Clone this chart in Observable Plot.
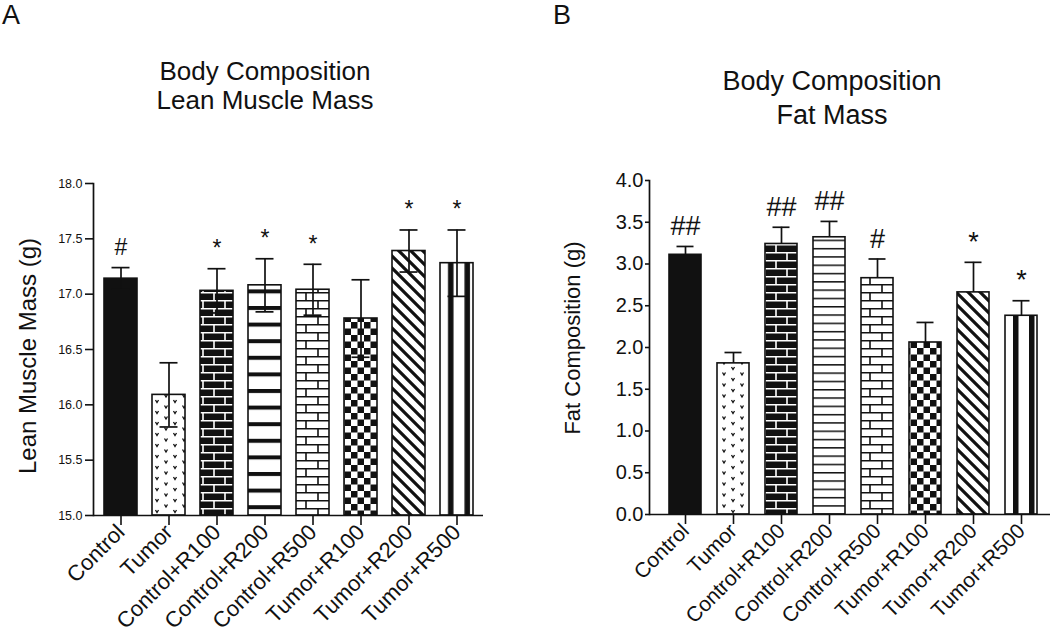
<!DOCTYPE html>
<html>
<head>
<meta charset="utf-8">
<script src="https://cdn.jsdelivr.net/npm/d3@7"></script>
<script src="https://cdn.jsdelivr.net/npm/@observablehq/plot@0.6"></script>
<style>
  body { margin: 0; background: #fff; font-family: "Liberation Sans", Arial, sans-serif; color: #111; }
  #root { position: relative; width: 1050px; height: 632px; overflow: hidden; background: #fff; }
  .abs { position: absolute; }
  .letter { font-size: 27px; line-height: 30px; }
  .title { text-align: center; white-space: nowrap; transform: translateX(-50%); }
  .ylab { white-space: nowrap; transform: translate(-50%, -50%) rotate(-90deg); line-height: 1.2; }
  .panel svg { overflow: visible; max-width: none; }
</style>
</head>
<body>
<svg width="0" height="0" style="position:absolute">
  <defs>
    <pattern id="vee" patternUnits="userSpaceOnUse" width="18" height="11">
      <rect width="18" height="11" fill="#fff"/>
      <path d="M2.5,1.5 L4,4 L5.5,1.5 M11.5,7 L13,9.5 L14.5,7" fill="none" stroke="#111" stroke-width="1.3"/>
    </pattern>
    <pattern id="brickBlack" patternUnits="userSpaceOnUse" width="22" height="16">
      <rect width="22" height="16" fill="#111"/>
      <path d="M0,0.8H22 M0,8.8H22 M5,0V8 M16,8V16" stroke="#fff" stroke-width="1.6"/>
    </pattern>
    <pattern id="brickWhite" patternUnits="userSpaceOnUse" width="24" height="16">
      <rect width="24" height="16" fill="#fff"/>
      <path d="M0,0.8H24 M0,8.8H24 M6,0V8 M18,8V16" stroke="#111" stroke-width="1.6"/>
    </pattern>
    <pattern id="stripesThick" patternUnits="userSpaceOnUse" width="10" height="16.6">
      <rect width="10" height="16.6" fill="#fff"/>
      <rect width="10" height="4" fill="#111"/>
    </pattern>
    <pattern id="stripesThin" patternUnits="userSpaceOnUse" width="10" height="8.3">
      <rect width="10" height="8.3" fill="#fff"/>
      <rect width="10" height="1.5" fill="#111"/>
    </pattern>
    <pattern id="checker" patternUnits="userSpaceOnUse" width="13" height="13">
      <rect width="13" height="13" fill="#fff"/>
      <rect width="6.5" height="6.5" fill="#111"/>
      <rect x="6.5" y="6.5" width="6.5" height="6.5" fill="#111"/>
    </pattern>
    <pattern id="diag" patternUnits="userSpaceOnUse" width="12" height="12">
      <rect width="12" height="12" fill="#fff"/>
      <path d="M0,0L12,12 M-6,6L6,18 M6,-6L18,6" stroke="#111" stroke-width="3.2"/>
    </pattern>
    <pattern id="vert" patternUnits="objectBoundingBox" x="0" y="0" width="0.5" height="1">
      <rect width="100" height="1000" fill="#fff"/>
      <rect x="8" width="5.5" height="1000" fill="#111"/>
    </pattern>
  </defs>
</svg>

<div id="root">
  <div class="abs letter" style="left:2px; top:0px;">A</div>
  <div class="abs letter" style="left:553px; top:0px;">B</div>
  <div class="abs title" style="left:265px; top:57px; font-size:26px; line-height:29px;">Body Composition<br>Lean Muscle Mass</div>
  <div class="abs title" style="left:832px; top:64px; font-size:27px; line-height:34px;">Body Composition<br>Fat Mass</div>
  <div class="abs ylab" style="left:28px; top:356px; font-size:24px;">Lean Muscle Mass (g)</div>
  <div class="abs ylab" style="left:573px; top:338px; font-size:22px;">Fat Composition (g)</div>
  <div id="left" class="abs panel" style="left:0px; top:140px; width:520px; height:492px;"></div>
  <div id="right" class="abs panel" style="left:540px; top:140px; width:520px; height:492px;"></div>
</div>

<script>
// ---- data ----
const groups = ["Control", "Tumor", "Control+R100", "Control+R200", "Control+R500", "Tumor+R100", "Tumor+R200", "Tumor+R500"];

const leanMean = [17.14, 16.09, 17.03, 17.08, 17.04, 16.78, 17.39, 17.28];
const leanSem  = [0.10, 0.29, 0.20, 0.24, 0.23, 0.35, 0.19, 0.30];
const leanSig  = ["#", "", "*", "*", "*", "", "*", "*"];
const leanTicks = [15.0, 15.5, 16.0, 16.5, 17.0, 17.5, 18.0];

const fatMean = [3.11, 1.81, 3.24, 3.32, 2.83, 2.06, 2.66, 2.38];
const fatSem  = [0.10, 0.13, 0.20, 0.19, 0.23, 0.24, 0.36, 0.18];
const fatSig  = ["##", "", "##", "##", "#", "", "*", "*"];
const fatTicks = [0.0, 0.5, 1.0, 1.5, 2.0, 2.5, 3.0, 3.5, 4.0];

const leanFills = ["#111", "url(#vee)", "url(#brickBlack)", "url(#stripesThick)", "url(#brickWhite)", "url(#checker)", "url(#diag)", "url(#vert)"];
const fatFills  = ["#111", "url(#vee)", "url(#brickBlack)", "url(#stripesThin)", "url(#brickWhite)", "url(#checker)", "url(#diag)", "url(#vert)"];

const ink = "#111";

function panel(o) {
  const rows = groups.map((g, i) => ({g, m: o.mean[i], lo: o.mean[i] - o.sem[i], hi: o.mean[i] + o.sem[i], s: o.sig[i]}));
  return Plot.plot({
    width: 520,
    height: 492,
    marginLeft: o.marginLeft,
    marginRight: o.marginRight,
    marginTop: o.marginTop,
    marginBottom: o.marginBottom,
    style: {fontFamily: '"Liberation Sans", Arial, sans-serif', color: ink, background: "transparent", overflow: "visible"},
    x: {domain: groups, range: o.range, paddingInner: o.pi, paddingOuter: o.po, axis: null},
    y: {domain: o.domain, axis: null},
    color: {type: "ordinal", domain: groups, range: o.fills},
    marks: [
      Plot.barY(rows, {x: "g", y1: o.domain[0], y2: "m", fill: "g", stroke: ink, strokeWidth: 1.6}),
      Plot.ruleX(rows, {x: "g", y1: o.both ? "lo" : "m", y2: "hi", stroke: ink, strokeWidth: 1.7}),
      Plot.tickY(rows, {x: "g", y: "hi", insetLeft: 7.5, insetRight: 7.5, stroke: ink, strokeWidth: 1.7}),
      o.both ? Plot.tickY(rows, {x: "g", y: "lo", insetLeft: 7.5, insetRight: 7.5, stroke: ink, strokeWidth: 1.7}) : null,
      Plot.text(rows.filter(d => d.s), {x: "g", y: "hi", text: "s", dy: o.sigDy, fontSize: o.sigFont, fill: ink}),
      Plot.axisY({ticks: o.ticks, tickFormat: d3.format(".1f"), tickSize: o.ytickSize, tickPadding: o.ytickPad, fontSize: o.yFont, label: null, strokeWidth: 1.6}),
      Plot.axisX({tickRotate: -45, tickSize: 10, tickPadding: 3, fontSize: o.xFont, label: null, strokeWidth: 1.6}),
      Plot.ruleY([o.domain[0]], {stroke: ink, strokeWidth: 1.7}),
      Plot.frame({anchor: "left", stroke: ink, strokeWidth: 1.7})
    ]
  });
}

document.getElementById("left").append(panel({
  mean: leanMean, sem: leanSem, sig: leanSig, ticks: leanTicks, domain: [15, 18], fills: leanFills,
  marginLeft: 93, marginRight: 37, marginTop: 43, marginBottom: 117,
  range: [93, 483], pi: 0.317, po: 0.197, both: true,
  sigDy: -20, sigFont: 23, ytickSize: 8, ytickPad: 3, yFont: 12.5, xFont: 22
}));

document.getElementById("right").append(panel({
  mean: fatMean, sem: fatSem, sig: fatSig, ticks: fatTicks, domain: [0, 4], fills: fatFills,
  marginLeft: 109, marginRight: 3, marginTop: 40, marginBottom: 118,
  range: [109, 517], pi: 0.33, po: 0.365, both: false,
  sigDy: -20, sigFont: 27, ytickSize: 4, ytickPad: 2, yFont: 20, xFont: 21
}));
</script>
</body>
</html>
